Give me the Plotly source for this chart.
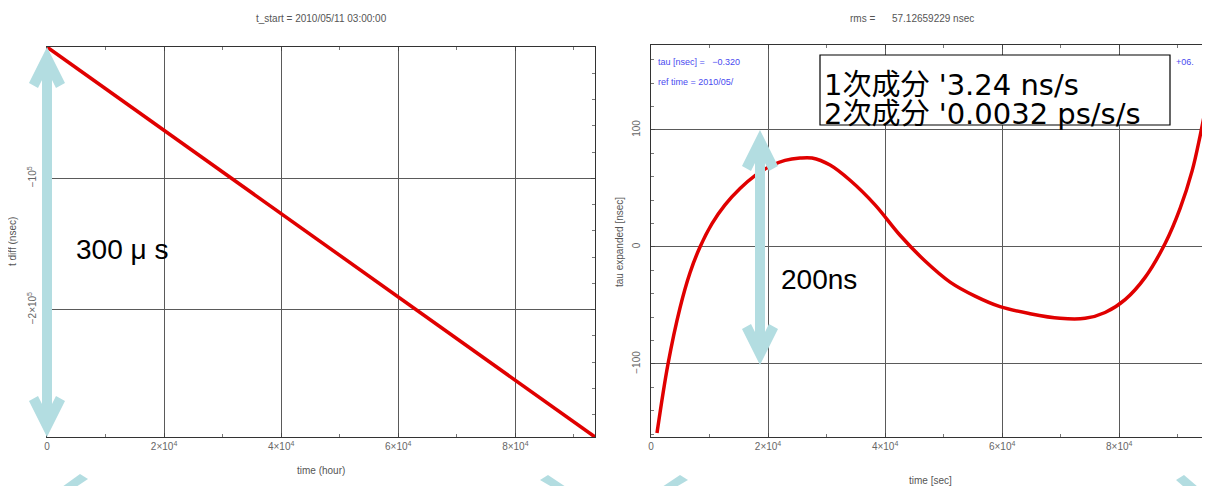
import plotly.graph_objects as go

# The page body has an 8px margin; work in reference pixels and shift by it.
OX, OY = 8, 8
FW, FH = 1202, 478

# ---- data ----
left_t = [0, 93600]
left_diff = [0, -297000]
left_xticks = [0, 20000, 40000, 60000, 80000]
left_xticktext = ["0", "2×10<sup>4</sup>", "4×10<sup>4</sup>", "6×10<sup>4</sup>", "8×10<sup>4</sup>"]
left_yticks = [-100000, -200000]
left_yticktext = ["−10<sup>5</sup>", "−2×10<sup>5</sup>"]

right_t = [1025, 2905, 4956, 6665, 8374, 10425, 12647, 15210, 17774, 20337, 22900,
           25464, 27515, 30591, 34009, 38282, 42554, 46827, 51100, 55372, 59644,
           64771, 69897, 74170, 77588, 81006, 84425, 87843, 90406, 92457, 93824, 95020]
right_tau = [-159, -100, -52, -22, 0, 20, 36, 50, 61, 69, 74,
             76, 76, 70, 57, 36, 10, -12, -30, -42, -51,
             -57, -61, -61, -56, -45, -26, 3, 33, 65, 95, 125]
right_xticks = [0, 20000, 40000, 60000, 80000]
right_xticktext = ["0", "2×10<sup>4</sup>", "4×10<sup>4</sup>", "6×10<sup>4</sup>", "8×10<sup>4</sup>"]
right_yticks = [-100, 0, 100]
right_yticktext = ["−100", "0", "100"]


def px(x, y):
    return (x - OX) / FW, (FH - (y - OY)) / FH


def dom_x(a, b):
    return [px(a, 0)[0], px(b, 0)[0]]


def dom_y(top, bottom):
    return [px(0, bottom)[1], px(0, top)[1]]


fig = go.Figure()
fig.add_trace(go.Scatter(x=left_t, y=left_diff, mode="lines",
                         line=dict(color="#e00000", width=3.5), xaxis="x", yaxis="y",
                         showlegend=False, hoverinfo="skip"))
fig.add_trace(go.Scatter(x=right_t, y=right_tau, mode="lines", line_shape="spline",
                         line=dict(color="#e00000", width=3.5, smoothing=1.0),
                         xaxis="x2", yaxis="y2", showlegend=False, hoverinfo="skip"))

tickfont = dict(family="Liberation Sans, Arial, sans-serif", size=10, color="#666")
axcommon = dict(showline=True, linecolor="#333", linewidth=1, mirror="ticks",
                ticks="inside", ticklen=4, tickcolor="#444",
                showgrid=True, gridcolor="#5a5a5a", gridwidth=1.3, zeroline=False,
                tickfont=tickfont, tickmode="array", automargin=False)
minor_common = dict(ticks="inside", ticklen=3, tickcolor="#777", showgrid=False)

fig.update_layout(
    width=FW, height=FH, margin=dict(l=0, r=0, t=0, b=0),
    paper_bgcolor="white", plot_bgcolor="white",
    xaxis=dict(axcommon, domain=dom_x(47, 595), range=[0, 93600],
               tickvals=left_xticks, ticktext=left_xticktext, anchor="y",
               minor=dict(minor_common, dtick=10000)),
    yaxis=dict(axcommon, domain=dom_y(47, 437), range=[-297000, 0],
               tickvals=left_yticks, ticktext=left_yticktext, tickangle=-90, anchor="x",
               ticklabelstandoff=6,
               minor=dict(minor_common, dtick=20000)),
    xaxis2=dict(axcommon, domain=dom_x(651, 1207), range=[0, 95000],
                tickvals=right_xticks, ticktext=right_xticktext, anchor="y2",
                minor=dict(minor_common, dtick=10000)),
    yaxis2=dict(axcommon, domain=dom_y(45, 437), range=[-162.4, 172.6],
                tickvals=right_yticks, ticktext=right_yticktext, tickangle=-90, anchor="x2",
                ticklabelstandoff=6,
                minor=dict(minor_common, dtick=20)),
)

small = dict(family="Liberation Sans, Arial, sans-serif", size=10, color="#555")
blue = dict(family="Liberation Sans, Arial, sans-serif", size=9, color="#4a4af0")
big_box = dict(family="DejaVu Sans, Noto Sans CJK JP, sans-serif", size=29, color="black")
big = dict(family="Liberation Sans, Noto Sans CJK JP, sans-serif", size=28, color="black")

ann = []


def text(x, y, s, font, xanchor="center", yanchor="middle", angle=0):
    xp, yp = px(x, y)
    ann.append(dict(x=xp, y=yp, xref="paper", yref="paper", text=s, showarrow=False,
                    font=font, xanchor=xanchor, yanchor=yanchor, textangle=angle))


text(321, 18, "t_start = 2010/05/11 03:00:00", small)
text(912, 18, "rms =      57.12659229 nsec", small)
text(321, 470, "time (hour)", small)
text(930, 480, "time [sec]", small)
text(12, 242, "t diff (nsec)", small, angle=-90)
text(619, 242, "tau expanded [nsec]", small, angle=-90)
text(656, 62, "tau [nsec] =   −0.320", blue, xanchor="left")
text(656, 82, "ref time = 2010/05/", blue, xanchor="left")
text(1174, 62, "+06.", blue, xanchor="left")

shapes = []


def poly(points, color="#b3dde1"):
    path = ""
    for i, (x, y) in enumerate(points):
        xp, yp = px(x, y)
        path += ("M" if i == 0 else "L") + f"{xp:.5f},{yp:.5f} "
    path += "Z"
    shapes.append(dict(type="path", path=path, xref="paper", yref="paper",
                       fillcolor=color, line=dict(width=0), layer="above"))


def darrow(cx, y1, y2):
    s = 5
    pts = [(cx, y1), (cx + 18, y1 + 36), (cx + 9, y1 + 41), (cx + s, y1 + 33),
           (cx + s, y2 - 33), (cx + 9, y2 - 41), (cx + 18, y2 - 36), (cx, y2),
           (cx - 18, y2 - 36), (cx - 9, y2 - 41), (cx - s, y2 - 33),
           (cx - s, y1 + 33), (cx - 9, y1 + 41), (cx - 18, y1 + 36)]
    poly(pts)


darrow(47, 47, 437)
darrow(760, 130, 365)

# partial arrowheads peeking in at the bottom edge
poly([(80, 474), (88, 479), (76, 487), (62, 487)])
poly([(540, 480), (548, 475), (566, 487), (552, 487)])
poly([(680, 475), (688, 480), (676, 487), (662, 487)])
poly([(1176, 480), (1184, 475), (1198, 487), (1184, 487)])

# text box
bx0, by0 = px(820, 55)
bx1, by1 = px(1170, 125)
shapes.append(dict(type="rect", xref="paper", yref="paper", x0=bx0, y0=by1, x1=bx1, y1=by0,
                   fillcolor="white", line=dict(color="black", width=1.2), layer="above"))

fig.update_layout(shapes=shapes)

text(822, 85, "1次成分 '3.24 ns/s", big_box, xanchor="left")
text(822, 114, "2次成分 '0.0032 ps/s/s", big_box, xanchor="left")
text(74, 250, "300 μ s", big, xanchor="left")
text(779, 280, "200ns", big, xanchor="left")

fig.update_layout(annotations=ann)
fig.write_html("out.html")
